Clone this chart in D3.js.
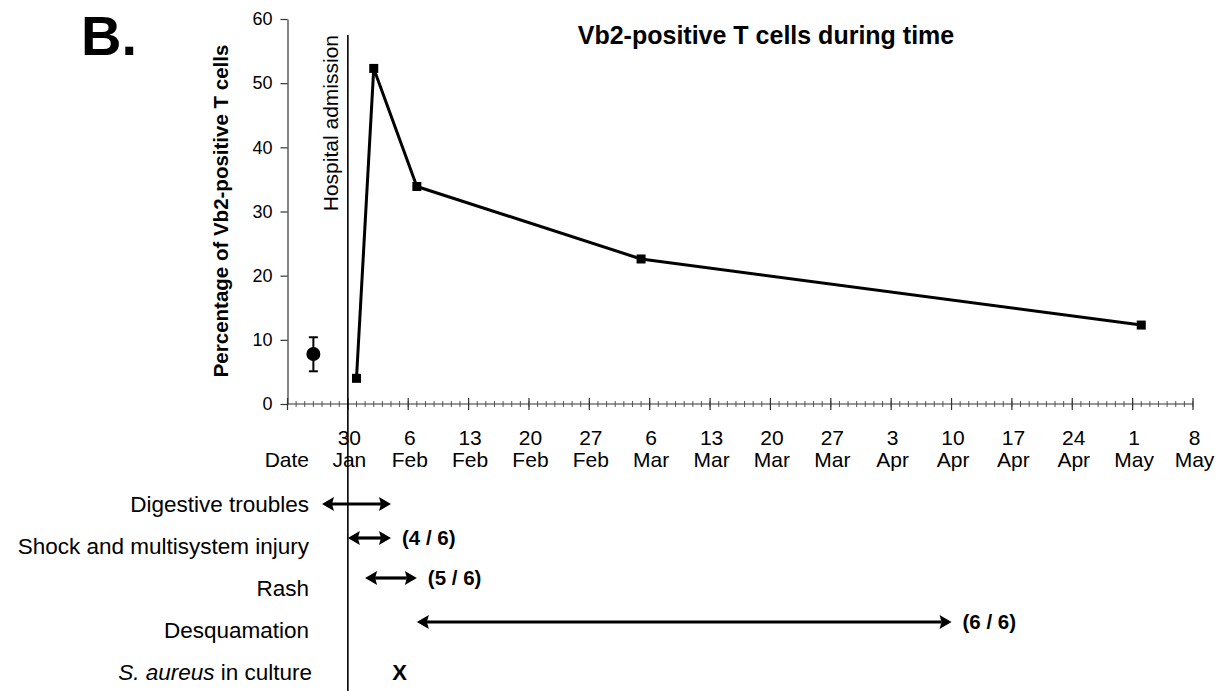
<!DOCTYPE html>
<html>
<head>
<meta charset="utf-8">
<script src="https://cdn.jsdelivr.net/npm/d3@7"></script>
<style>
  html, body { margin: 0; padding: 0; background: #fff; }
  svg { display: block; font-family: "Liberation Sans", Arial, sans-serif; }
</style>
</head>
<body>
<svg id="chart" width="1226" height="691"></svg>
<script>
// Vb2-positive T cell counts over the course of the illness
const visitDates = ["2007-01-31", "2007-02-02", "2007-02-07", "2007-03-05", "2007-05-02"];
const vb2Percent = [4.0, 52.3, 33.9, 22.6, 12.3];

// healthy-control reference (mean with range)
const controlDate = "2007-01-26";
const controlMean = 7.8;
const controlLow = 5.1;
const controlHigh = 10.4;

// weekly labelled ticks on the date axis
const tickDates = ["2007-01-30", "2007-02-06", "2007-02-13", "2007-02-20", "2007-02-27",
  "2007-03-06", "2007-03-13", "2007-03-20", "2007-03-27", "2007-04-03", "2007-04-10",
  "2007-04-17", "2007-04-24", "2007-05-01", "2007-05-08"];
const yTicks = [0, 10, 20, 30, 40, 50, 60];

const admissionDate = "2007-01-30";

// clinical timeline
const symptoms = ["Digestive troubles", "Shock and multisystem injury", "Rash", "Desquamation"];
const symptomStart = ["2007-01-27", "2007-01-30", "2007-02-01", "2007-02-07"];
const symptomEnd = ["2007-02-04", "2007-02-04", "2007-02-07", "2007-04-10"];
const symptomCount = ["", "(4 / 6)", "(5 / 6)", "(6 / 6)"];
const cultureDate = "2007-02-05";

const parse = d3.utcParse("%Y-%m-%d");
const svg = d3.select("#chart");

const x = d3.scaleUtc()
  .domain([parse("2007-01-23"), parse("2007-05-08")])
  .range([287.5, 1193]);
const y = d3.scaleLinear().domain([0, 60]).range([404, 19]);

// panel letter and title
svg.append("text").attr("x", 81).attr("y", 55)
  .attr("font-size", 56).attr("font-weight", "bold").text("B.");
svg.append("text").attr("x", 766).attr("y", 44).attr("text-anchor", "middle")
  .attr("font-size", 25).attr("font-weight", "bold").text("Vb2-positive T cells during time");

// y axis
const yAxis = svg.append("g").attr("transform", `translate(${x.range()[0]},0)`)
  .call(d3.axisLeft(y).tickValues(yTicks).tickSize(7).tickPadding(8).tickSizeOuter(0));
yAxis.select(".domain").attr("stroke", "#333").attr("stroke-width", 1.2);
yAxis.selectAll(".tick line").attr("stroke", "#333").attr("stroke-width", 1.2);
yAxis.selectAll(".tick text").attr("font-size", 18).attr("fill", "#000")
  .attr("font-family", "Liberation Sans, Arial, sans-serif");

svg.append("text")
  .attr("transform", `translate(228,211) rotate(-90)`)
  .attr("text-anchor", "middle").attr("font-size", 20.5).attr("font-weight", "bold")
  .text("Percentage of Vb2-positive T cells");

// x axis: daily minor ticks, weekly major ticks crossing the line
const xg = svg.append("g");
xg.append("line").attr("x1", x.range()[0]).attr("x2", x.range()[1])
  .attr("y1", y(0)).attr("y2", y(0)).attr("stroke", "#333").attr("stroke-width", 1.2);
const allDays = d3.utcDay.range(x.domain()[0], d3.utcDay.offset(x.domain()[1], 1));
xg.selectAll("line.minor").data(allDays).join("line").attr("class", "minor")
  .attr("x1", d => x(d)).attr("x2", d => x(d))
  .attr("y1", y(0) - 3).attr("y2", y(0) + 3).attr("stroke", "#555").attr("stroke-width", 1);
const majorDays = allDays.filter((d, i) => i % 7 === 0);
xg.selectAll("line.major").data(majorDays).join("line").attr("class", "major")
  .attr("x1", d => x(d)).attr("x2", d => x(d))
  .attr("y1", y(0) - 6).attr("y2", y(0) + 6).attr("stroke", "#333").attr("stroke-width", 1.2);

const fmtDay = d3.utcFormat("%-d"), fmtMon = d3.utcFormat("%b");
const tl = xg.selectAll("g.tl").data(tickDates.map(parse)).join("g").attr("class", "tl")
  .attr("transform", d => `translate(${x(d) + 1.5},0)`);
tl.append("text").attr("y", 445).attr("text-anchor", "middle").attr("font-size", 21).text(fmtDay);
tl.append("text").attr("y", 467).attr("text-anchor", "middle").attr("font-size", 21).text(fmtMon);
svg.append("text").attr("x", 309).attr("y", 467).attr("text-anchor", "end")
  .attr("font-size", 21).text("Date");

// hospital admission marker
const xa = x(parse(admissionDate));
svg.append("line").attr("x1", xa).attr("x2", xa).attr("y1", 35).attr("y2", 691)
  .attr("stroke", "#000").attr("stroke-width", 1.6);
svg.append("text").attr("transform", `translate(${xa - 10},35) rotate(-90)`)
  .attr("text-anchor", "end").attr("font-size", 21).text("Hospital admission");

// control mean with error bar
const cx = x(parse(controlDate));
svg.append("line").attr("x1", cx).attr("x2", cx).attr("y1", y(controlLow)).attr("y2", y(controlHigh))
  .attr("stroke", "#000").attr("stroke-width", 2);
[controlLow, controlHigh].forEach(v => svg.append("line")
  .attr("x1", cx - 4.5).attr("x2", cx + 4.5).attr("y1", y(v)).attr("y2", y(v))
  .attr("stroke", "#000").attr("stroke-width", 2));
svg.append("circle").attr("cx", cx).attr("cy", y(controlMean)).attr("r", 7).attr("fill", "#000");

// patient series
const pts = visitDates.map((d, i) => ({ date: parse(d), v: vb2Percent[i] }));
svg.append("path").datum(pts)
  .attr("d", d3.line().x(d => x(d.date)).y(d => y(d.v)))
  .attr("fill", "none").attr("stroke", "#000").attr("stroke-width", 3).attr("stroke-linejoin", "round");
svg.selectAll("rect.pt").data(pts).join("rect").attr("class", "pt")
  .attr("x", d => x(d.date) - 4.5).attr("y", d => y(d.v) - 4.5)
  .attr("width", 9).attr("height", 9).attr("fill", "#000");

// clinical timeline rows
const rowNames = symptoms.concat(["S. aureus in culture"]);
const rowY = d3.scalePoint().domain(d3.range(rowNames.length)).range([504, 672]);
const arrowNudge = [0, -8, -10, -8];

rowNames.forEach((name, i) => {
  const t = svg.append("text").attr("x", i === 4 ? 312 : 309).attr("y", rowY(i) + 8)
    .attr("text-anchor", "end").attr("font-size", 22.5);
  if (i === 4) {
    t.append("tspan").attr("font-style", "italic").text("S. aureus");
    t.append("tspan").text(" in culture");
  } else {
    t.text(name);
  }
});

function doubleArrow(x1, x2, yy) {
  const L = 12, W = 7;
  const g = svg.append("g");
  g.append("line").attr("x1", x1 + L - 2).attr("x2", x2 - L + 2).attr("y1", yy).attr("y2", yy)
    .attr("stroke", "#000").attr("stroke-width", 3.2);
  g.append("path").attr("d", `M${x1},${yy}L${x1 + L},${yy - W}L${x1 + L - 2},${yy}L${x1 + L},${yy + W}Z`).attr("fill", "#000");
  g.append("path").attr("d", `M${x2},${yy}L${x2 - L},${yy - W}L${x2 - L + 2},${yy}L${x2 - L},${yy + W}Z`).attr("fill", "#000");
}

symptoms.forEach((s, i) => {
  const x1 = x(parse(symptomStart[i])), x2 = x(parse(symptomEnd[i]));
  const yy = rowY(i) + arrowNudge[i];
  doubleArrow(x1, x2, yy);
  if (symptomCount[i]) {
    svg.append("text").attr("x", x2 + 11).attr("y", yy + 7)
      .attr("font-size", 20.5).attr("font-weight", "bold").text(symptomCount[i]);
  }
});

svg.append("text").attr("x", x(parse(cultureDate))).attr("y", rowY(4) + 8)
  .attr("text-anchor", "middle").attr("font-size", 22).attr("font-weight", "bold").text("X");
</script>
</body>
</html>
